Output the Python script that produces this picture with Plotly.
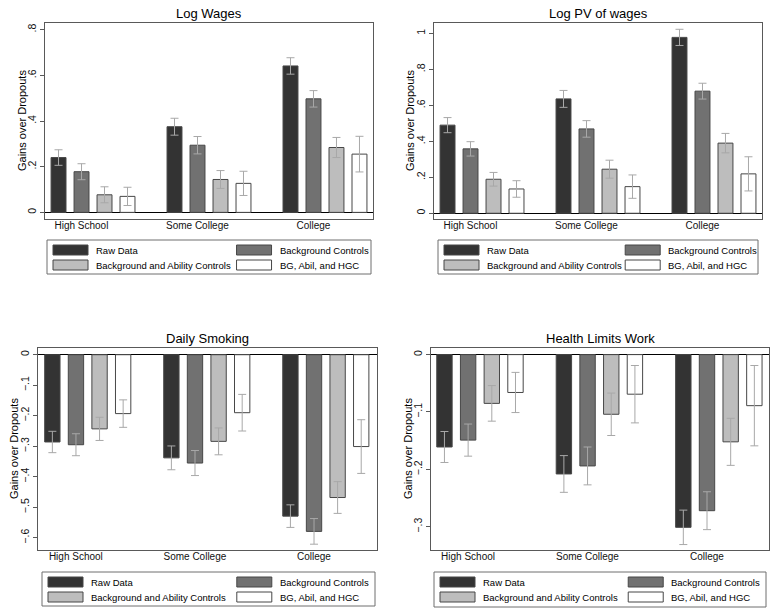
import plotly.graph_objects as go

W, H = 779, 616

categories = ["High School", "Some College", "College"]
series_names = ["Raw Data", "Background Controls",
                "Background and Ability Controls", "BG, Abil, and HGC"]

# Log Wages
wages_raw = [0.240, 0.375, 0.641]
wages_raw_err = [0.034, 0.037, 0.036]
wages_bg = [0.178, 0.294, 0.497]
wages_bg_err = [0.035, 0.038, 0.036]
wages_bga = [0.077, 0.144, 0.284]
wages_bga_err = [0.035, 0.039, 0.044]
wages_bgh = [0.070, 0.127, 0.255]
wages_bgh_err = [0.040, 0.053, 0.078]

# Log PV of wages
pv_raw = [0.490, 0.636, 0.978]
pv_raw_err = [0.042, 0.047, 0.045]
pv_bg = [0.358, 0.469, 0.679]
pv_bg_err = [0.040, 0.046, 0.044]
pv_bga = [0.189, 0.245, 0.390]
pv_bga_err = [0.038, 0.050, 0.054]
pv_bgh = [0.135, 0.148, 0.219]
pv_bgh_err = [0.046, 0.065, 0.095]

# Daily Smoking
smoke_raw = [-0.286, -0.338, -0.529]
smoke_raw_err = [0.035, 0.039, 0.037]
smoke_bg = [-0.295, -0.355, -0.579]
smoke_bg_err = [0.036, 0.041, 0.042]
smoke_bga = [-0.243, -0.284, -0.468]
smoke_bga_err = [0.038, 0.044, 0.052]
smoke_bgh = [-0.193, -0.190, -0.301]
smoke_bgh_err = [0.045, 0.060, 0.088]

# Health Limits Work
health_raw = [-0.161, -0.208, -0.301]
health_raw_err = [0.027, 0.032, 0.030]
health_bg = [-0.149, -0.194, -0.272]
health_bg_err = [0.028, 0.033, 0.033]
health_bga = [-0.085, -0.104, -0.152]
health_bga_err = [0.031, 0.037, 0.041]
health_bgh = [-0.066, -0.069, -0.089]
health_bgh_err = [0.035, 0.050, 0.070]

# y ticks
wages_ticks = [0, 0.2, 0.4, 0.6, 0.8]
wages_ticklabels = ["0", ".2", ".4", ".6", ".8"]
pv_ticks = [0, 0.2, 0.4, 0.6, 0.8, 1.0]
pv_ticklabels = ["0", ".2", ".4", ".6", ".8", "1"]
smoke_ticks = [0, -0.1, -0.2, -0.3, -0.4, -0.5, -0.6]
smoke_ticklabels = ["0", "\u2212.1", "\u2212.2", "\u2212.3", "\u2212.4", "\u2212.5", "\u2212.6"]
health_ticks = [0, -0.1, -0.2, -0.3]
health_ticklabels = ["0", "\u2212.1", "\u2212.2", "\u2212.3"]

colors = ["#333333", "#717171", "#bdbdbd", "#ffffff"]
FONT = "Arial, Liberation Sans, sans-serif"

def px(x):
    return x / W

def py(y):
    return 1 - y / H

panels = [
    dict(title="Log Wages",
         data=[(wages_raw, wages_raw_err), (wages_bg, wages_bg_err),
               (wages_bga, wages_bga_err), (wages_bgh, wages_bgh_err)],
         ticks=wages_ticks, ticklabels=wages_ticklabels,
         frame=(45, 23, 373, 219), yrange=[-0.029, 0.829], xrange=[-0.414, 2.414],
         title_y=14, ytitle_x=22, legend=(47, 240, 371, 274)),
    dict(title="Log PV of wages",
         data=[(pv_raw, pv_raw_err), (pv_bg, pv_bg_err),
               (pv_bga, pv_bga_err), (pv_bgh, pv_bgh_err)],
         ticks=pv_ticks, ticklabels=pv_ticklabels,
         frame=(434, 23, 762, 219), yrange=[-0.032, 1.058], xrange=[-0.414, 2.414],
         title_y=14, ytitle_x=410, legend=(438, 240, 758, 274)),
    dict(title="Daily Smoking",
         data=[(smoke_raw, smoke_raw_err), (smoke_bg, smoke_bg_err),
               (smoke_bga, smoke_bga_err), (smoke_bgh, smoke_bgh_err)],
         ticks=smoke_ticks, ticklabels=smoke_ticklabels,
         frame=(38, 348, 377, 550), yrange=[-0.640, 0.022], xrange=[-0.418, 2.43],
         title_y=338, ytitle_x=14, legend=(42, 572, 375, 606)),
    dict(title="Health Limits Work",
         data=[(health_raw, health_raw_err), (health_bg, health_bg_err),
               (health_bga, health_bga_err), (health_bgh, health_bgh_err)],
         ticks=health_ticks, ticklabels=health_ticklabels,
         frame=(431, 348, 769, 550), yrange=[-0.3405, 0.0115], xrange=[-0.41, 2.42],
         title_y=338, ytitle_x=408, legend=(434, 572, 766, 607)),
]

fig = go.Figure()
annotations = []
shapes = []
xpos = list(range(len(categories)))

for i, p in enumerate(panels):
    k = "" if i == 0 else str(i + 1)
    xa, ya = "x" + k, "y" + k
    for j, (vals, errs) in enumerate(p["data"]):
        fig.add_trace(go.Bar(
            x=xpos, y=vals, name=series_names[j], xaxis=xa, yaxis=ya,
            marker=dict(color=colors[j], line=dict(color="#474747", width=1)),
            error_y=dict(type="data", array=errs, visible=True,
                         color="#a8a8a8", thickness=1, width=4),
            showlegend=False,
        ))
    l, t, r, b = p["frame"]
    fig.layout["xaxis" + k] = dict(
        domain=[px(l), px(r)], anchor=ya, range=p["xrange"],
        tickvals=[v - 0.1 for v in xpos], ticktext=categories,
        ticks="", ticklen=0, ticklabelstandoff=-3, showgrid=False, zeroline=False,
        showline=True, mirror=True, linecolor="#595959", linewidth=1,
        tickfont=dict(family=FONT, size=10, color="#111"), automargin=False,
    )
    fig.layout["yaxis" + k] = dict(
        domain=[py(b), py(t)], anchor=xa, range=p["yrange"],
        tickvals=p["ticks"], ticktext=p["ticklabels"], tickangle=-90,
        ticks="outside", ticklen=4, tickcolor="#595959",
        showgrid=False, zeroline=True, zerolinecolor="#000000", zerolinewidth=1,
        showline=True, mirror=True, linecolor="#595959", linewidth=1,
        tickfont=dict(family=FONT, size=10.5, color="#111"), automargin=False,
    )
    # title
    annotations.append(dict(
        text=p["title"], x=px((l + r) / 2), y=py(p["title_y"]), xref="paper", yref="paper",
        showarrow=False, xanchor="center", yanchor="middle",
        font=dict(family=FONT, size=13, color="#000")))
    # y-axis title
    annotations.append(dict(
        text="Gains over Dropouts", x=px(p["ytitle_x"]), y=py((t + b) / 2),
        xref="paper", yref="paper", showarrow=False, textangle=-90,
        xanchor="center", yanchor="middle",
        font=dict(family=FONT, size=11, color="#000")))
    # legend box
    L, T, R, B = p["legend"]
    shapes.append(dict(type="rect", xref="paper", yref="paper",
                       x0=px(L), x1=px(R), y0=py(B), y1=py(T),
                       line=dict(color="#6e6e6e", width=1), fillcolor="white"))
    col_x = [L + 6, L + 0.585 * (R - L)]
    row_y = [T + 10, T + 25]
    for j, name in enumerate(series_names):
        cx = col_x[j % 2]
        cy = row_y[j // 2]
        shapes.append(dict(type="rect", xref="paper", yref="paper",
                           x0=px(cx), x1=px(cx + 35), y0=py(cy + 5), y1=py(cy - 5),
                           line=dict(color="#474747", width=1), fillcolor=colors[j]))
        annotations.append(dict(
            text=name, x=px(cx + 41), y=py(cy), xref="paper", yref="paper",
            showarrow=False, xanchor="left", yanchor="middle",
            font=dict(family=FONT, size=9.5, color="#000")))

fig.update_layout(
    width=W, height=H, margin=dict(l=0, r=0, t=0, b=0),
    paper_bgcolor="white", plot_bgcolor="white",
    barmode="group", bargap=0.207, bargroupgap=0.35,
    annotations=annotations, shapes=shapes, showlegend=False,
    font=dict(family=FONT),
)

fig.write_html("out.html", config={"displayModeBar": False},
               post_script="document.body.style.margin='0';document.body.style.overflow='hidden';")
